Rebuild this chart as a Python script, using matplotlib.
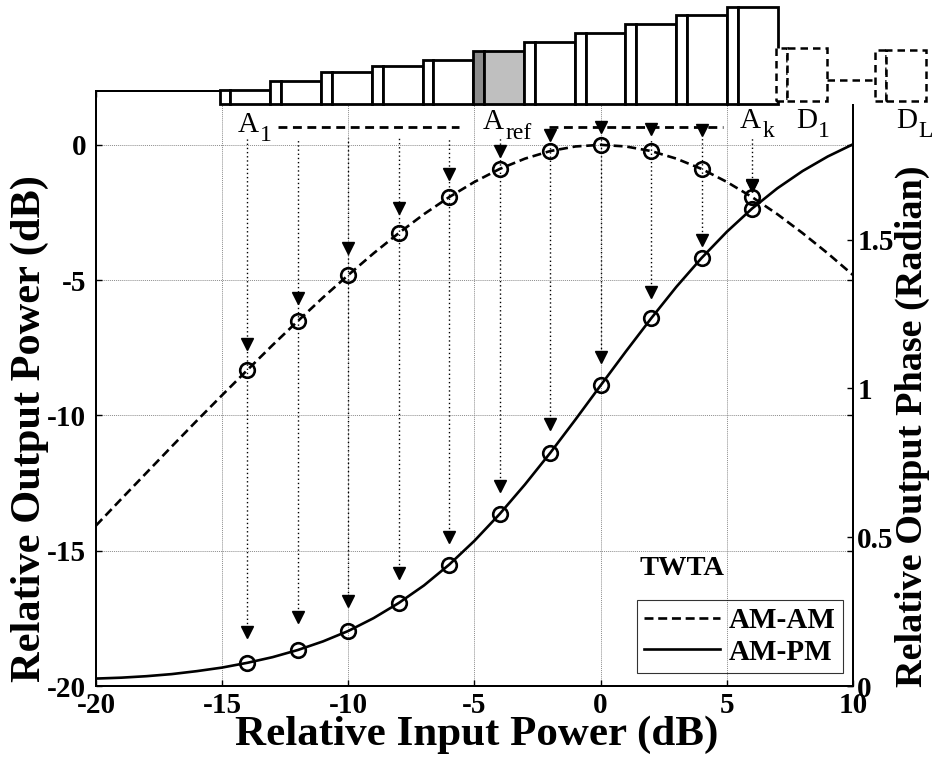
import matplotlib
matplotlib.use('Agg')
import matplotlib.pyplot as plt
from matplotlib.patches import Rectangle
from matplotlib.lines import Line2D

plt.rcParams['font.family'] = ['Liberation Serif', 'DejaVu Serif']
plt.rcParams['font.weight'] = 'bold'
plt.rcParams['axes.unicode_minus'] = False

# ---------------- data ----------------
input_db = [-20, -19, -18, -17, -16, -15, -14, -13, -12, -11, -10, -9, -8, -7, -6, -5,
            -4, -3, -2, -1, 0, 1, 2, 3, 4, 5, 6, 7, 8, 9, 10]
am_am_db = [-14.07, -13.09, -12.12, -11.15, -10.19, -9.25, -8.32, -7.40, -6.51, -5.64,
            -4.81, -4.01, -3.26, -2.56, -1.93, -1.37, -0.89, -0.51, -0.23, -0.06,
            0.00, -0.06, -0.23, -0.51, -0.89, -1.37, -1.93, -2.56, -3.26, -4.01, -4.81]
am_pm_rad = [0.025, 0.028, 0.033, 0.040, 0.050, 0.062, 0.078, 0.097, 0.121, 0.150,
             0.185, 0.228, 0.279, 0.338, 0.408, 0.488, 0.578, 0.677, 0.783, 0.895,
             1.010, 1.124, 1.235, 1.341, 1.438, 1.526, 1.604, 1.672, 1.730, 1.779, 1.820]

marker_db = [-14, -12, -10, -8, -6, -4, -2, 0, 2, 4, 6]
am_am_arrow_db = [-7.35, -5.65, -3.81, -2.33, -1.07, -0.22, 0.37, 0.67, 0.59, 0.55, -1.48]
am_pm_arrow_rad = [0.181, 0.232, 0.286, 0.380, 0.500, 0.672, 0.880, 1.105, 1.323, 1.498, 1.68]

block_heights = [0.52, 0.83, 1.16, 1.41, 1.63, 1.96, 2.29, 2.62, 2.95, 3.29, 3.59]
ref_block = 5
dashed_heights = [1.97, 1.89]

xticks = [-20, -15, -10, -5, 0, 5, 10]
yticks_left = [-20, -15, -10, -5, 0]
yticks_right = [0, 0.5, 1, 1.5]
yticklabels_right = ['0', '0.5', '1', '1.5']

# ---------------- figure ----------------
fig = plt.figure(figsize=(9.32, 7.63), dpi=100)
ax = fig.add_axes([0.103, 0.1009, 0.8122, 0.7802])
ax2 = ax.twinx()

lw = 1.9
dash = (3.4, 1.8)
ax.plot(input_db, am_am_db, color='k', ls='--', lw=lw, dashes=dash, zorder=4)
ax2.plot(input_db, am_pm_rad, color='k', ls='-', lw=lw, zorder=4)

am_am_mk = [am_am_db[input_db.index(v)] for v in marker_db]
am_pm_mk = [am_pm_rad[input_db.index(v)] for v in marker_db]
ax.plot(marker_db, am_am_mk, ls='none', marker='o', ms=10.5, mfc='none', mec='k', mew=1.9, zorder=5)
ax2.plot(marker_db, am_pm_mk, ls='none', marker='o', ms=10.5, mfc='none', mec='k', mew=1.9, zorder=5)
ax.plot(marker_db, am_am_arrow_db, ls='none', marker='v', ms=8.5, color='k', zorder=5)
ax2.plot(marker_db, am_pm_arrow_rad, ls='none', marker='v', ms=8.5, color='k', zorder=5)

arrow_top = 1.84  # in right-axis units
ax2.vlines(marker_db, am_pm_arrow_rad, arrow_top, colors='k', linestyles=(0, (1, 2)), lw=1.0, zorder=3)

# axes setup
ax.set_xlim(-20, 10)
ax.set_ylim(-20, 2)
ax.set_xticks(xticks)
ax.set_yticks(yticks_left)
ax2.set_ylim(0, 2)
ax2.set_yticks(yticks_right)
ax2.set_yticklabels(yticklabels_right)
ax.grid(True, color='0.55', lw=0.7, ls=(0, (1, 1)))
ax.tick_params(direction='in', length=4, width=1, labelsize=21, top=True, right=True, pad=4)
ax.tick_params(axis='y', pad=7)
ax2.tick_params(direction='in', length=4, width=1, labelsize=21, pad=3)
for a in (ax, ax2):
    for s in a.spines.values():
        s.set_linewidth(1.4)

ax.set_xlabel('Relative Input Power (dB)', fontsize=31, fontweight='bold')
ax.xaxis.label.set_va('center')
ax.xaxis.set_label_coords(0.503, -0.082)
ax.set_ylabel('Relative Output Power (dB)', fontsize=30.5, fontweight='bold')
ax.yaxis.label.set_va('center')
ax.yaxis.set_label_coords(-0.087, 0.432)
ax2.set_ylabel('Relative Output Phase (Radian)', fontsize=27.5, fontweight='bold', rotation=90)
ax2.yaxis.label.set_va('baseline')
ax2.yaxis.label.set_ha('center')
ax2.yaxis.label.set_rotation_mode('anchor')
ax2.yaxis.set_label_coords(1.091, 0.436)

# legend
handles = [Line2D([], [], color='k', ls='--', lw=lw, dashes=dash),
           Line2D([], [], color='k', ls='-', lw=lw)]
leg = ax2.legend(handles, ['AM-AM', 'AM-PM'], loc='lower right', bbox_to_anchor=(0.987, 0.022),
                 borderaxespad=0, fontsize=21, fancybox=False, edgecolor='k', facecolor='none',
                 handlelength=2.6, handletextpad=0.3, borderpad=0.25,
                 labelspacing=0.15)
leg.get_frame().set_linewidth(0.8)
ax2.text(0.774, 0.197, 'TWTA', transform=ax2.transAxes, ha='center', va='center',
         fontsize=20.5, fontweight='bold')

# ---------------- top schematic blocks ----------------
T = ax.transData
block_start = -15.1
block_step = 2.01
narrow_w = 0.43
wide_w = 1.58
base = 1.515
ax2.add_patch(Rectangle((block_start, 1.5), 25.35, 0.7, fc='white', ec='none',
                        transform=T, clip_on=False, zorder=6))
for i, h in enumerate(block_heights):
    x0 = block_start + i * block_step
    fn, fw = ('0.55', '0.75') if i == ref_block else ('white', 'white')
    ax2.add_patch(Rectangle((x0, base), narrow_w, h, fc=fn, ec='k', lw=2.0,
                            transform=T, clip_on=False, zorder=7))
    ax2.add_patch(Rectangle((x0 + narrow_w, base), wide_w, h, fc=fw, ec='k', lw=2.0,
                            transform=T, clip_on=False, zorder=7))

d_base = 1.62
d_x = [6.95, 10.88]
for x0, h in zip(d_x, dashed_heights):
    for (xx, ww) in ((x0, narrow_w), (x0 + narrow_w, wide_w)):
        ax2.add_patch(Rectangle((xx, d_base), ww, h, fc='white', ec='k', lw=1.8, ls=(0, (3, 2)),
                                transform=T, clip_on=False, zorder=7))
ax2.plot([d_x[0] + narrow_w + wide_w, d_x[1]], [2.40, 2.40], color='k', lw=1.8, ls=(0, (3, 2)),
         transform=T, clip_on=False, zorder=7)

# labels A1 ... DL
def label(x, y, main, sub):
    ax.text(x, y, main, fontsize=21, fontweight='normal', ha='left', va='baseline',
            clip_on=False, zorder=8)
    ax.annotate(sub, xy=(x, y), xytext=(16, -7), textcoords='offset points', fontsize=17,
                fontweight='normal', ha='left', va='baseline', annotation_clip=False, zorder=8)

label(-14.38, 0.49, 'A', '1')
label(-4.67, 0.58, 'A', 'ref')
label(5.52, 0.64, 'A', 'k')
label(7.74, 0.64, 'D', '1')
label(11.71, 0.64, 'D', 'L')

ax.plot([-12.78, -5.6], [0.65, 0.65], color='k', lw=2.0, ls=(0, (3.2, 2.0)), zorder=6)
ax.plot([-2.04, 4.83], [0.65, 0.65], color='k', lw=2.0, ls=(0, (3.2, 2.0)), zorder=6)

fig.savefig('out.png', dpi=100)
